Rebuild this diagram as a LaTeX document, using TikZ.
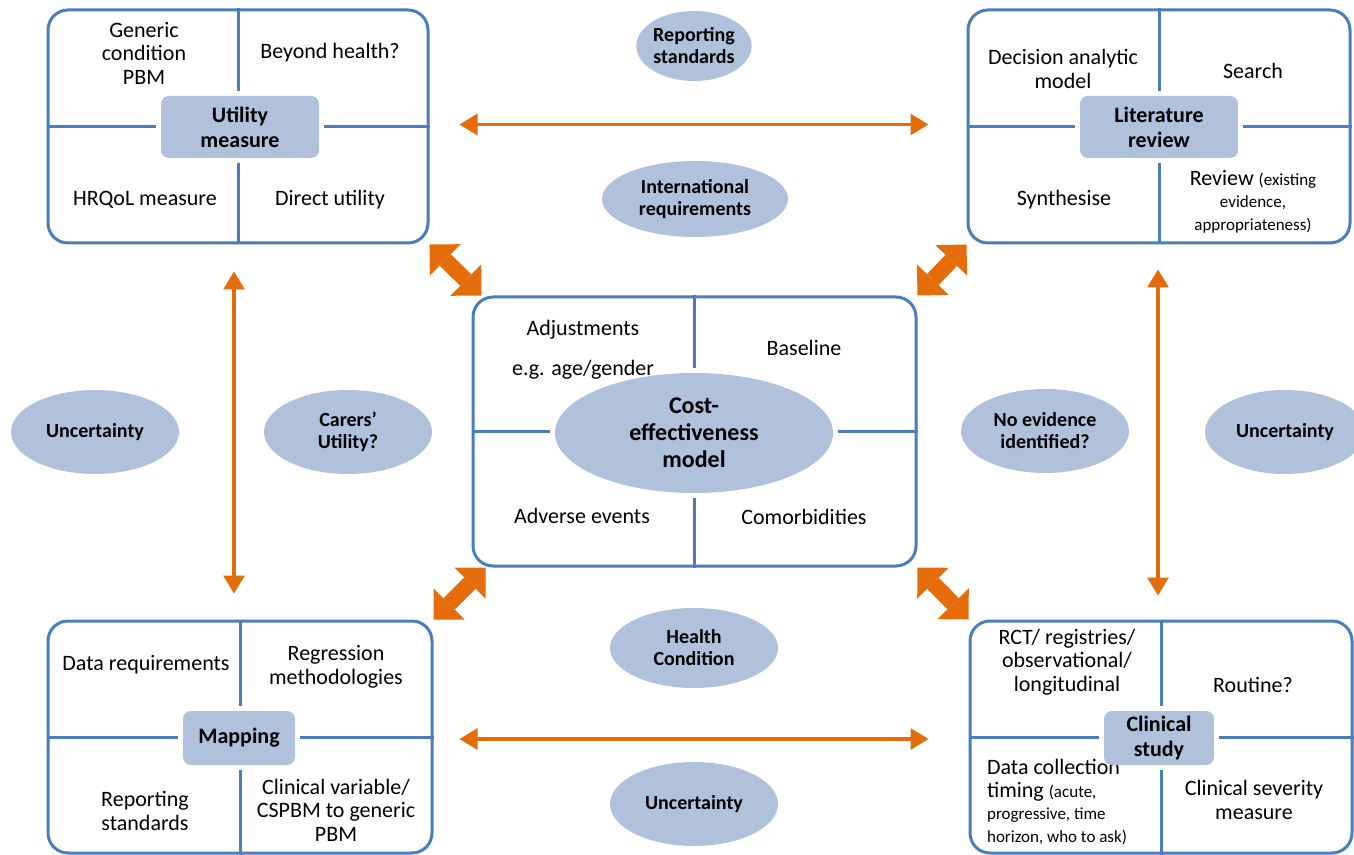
\documentclass[tikz,border=0pt]{standalone}
\usepackage{fontspec}
\setmainfont{Carlito}
\usetikzlibrary{arrows.meta,shapes.geometric}

\definecolor{boxblue}{HTML}{4A7EBB}
\definecolor{tagblue}{HTML}{B0C1DC}
\definecolor{arrorange}{HTML}{E46C0A}
\newcommand{\smalltxt}{\fontsize{8.5}{9.8}\selectfont}

\begin{document}
\begin{tikzpicture}[
    x=0.5pt,y=-0.5pt,
    every node/.style={align=center},
    quad/.style={draw=boxblue,line width=1.5pt,rounded corners=10pt,inner sep=0pt},
    tag/.style={fill=tagblue,rounded corners=4pt,inner sep=0pt,font=\fontsize{11}{12.5}\selectfont\bfseries},
    bubble/.style={ellipse,fill=tagblue,inner sep=0pt,minimum width=84pt,minimum height=42pt,font=\fontsize{10}{11}\selectfont\bfseries},
    cell/.style={font=\fontsize{11}{11.75}\selectfont},
    rule/.style={draw=boxblue,line width=1.5pt,shorten >=2.5pt},
    link/.style={draw=arrorange,line width=1.6pt,{Triangle[width=10.5pt,length=9pt]}-{Triangle[width=10.5pt,length=9pt]}},
    block/.style={draw=arrorange,line width=8pt,{Triangle[width=22pt,length=11pt,line width=0pt]}-{Triangle[width=22pt,length=11pt,line width=0pt]}}
]
\useasboundingbox (0,0) rectangle (1354,855);

\node[quad,minimum width=190pt,minimum height=116.5pt] (util) at (238,126.5) {};
\node[quad,minimum width=191pt,minimum height=116.5pt] (lit) at (1159,126.5) {};
\node[quad,minimum width=221.5pt,minimum height=134.5pt] (cem) at (694.5,431.5) {};
\node[quad,minimum width=192pt,minimum height=116pt] (map) at (240,737) {};
\node[quad,minimum width=191pt,minimum height=116pt] (clin) at (1161,737) {};

\node[cell] (gen) at (144,53) {Generic\\condition\\PBM};
\node[cell] (bey) at (330,53) {Beyond health?};
\node[cell] (hrq) at (145,200) {HRQoL measure};
\node[cell] (dir) at (330,200) {Direct utility};

\node[cell] (dec) at (1063,69) {Decision analytic\\model};
\node[cell] (sea) at (1253,71) {Search};
\node[cell] (syn) at (1064,200) {Synthesise};
\node[cell] (rev) at (1253,202) {Review \smalltxt(existing\\[-1pt]\smalltxt evidence,\\\smalltxt appropriateness)};

\node[cell] (adj) at (583,350) {Adjustments\\[1.6ex]e.g. age/gender};
\node[cell] (bas) at (804,348) {Baseline};
\node[cell] (adv) at (582,516) {Adverse events};
\node[cell] (com) at (804,517) {Comorbidities};

\node[cell] (dat) at (146,665) {Data requirements};
\node[cell] (reg) at (336,667) {Regression\\methodologies};
\node[cell] (rps) at (145,811) {Reporting\\standards};
\node[cell] (cli) at (336,810) {Clinical variable/\\CSPBM to generic\\PBM};

\node[cell] (rct) at (1067,662) {RCT/ registries/\\observational/\\longitudinal};
\node[cell] (rou) at (1253,685) {Routine?};
\node[cell,align=left,anchor=west] (dct) at (980,802) {Data collection\\timing \smalltxt(acute,\\[-1pt]\smalltxt progressive, time\\\smalltxt horizon, who to ask)};
\node[cell] (sev) at (1254,800) {Clinical severity\\measure};

\node[tag,minimum width=79pt,minimum height=31pt] (utag) at (240,127) {Utility\\measure};
\node[tag,minimum width=79pt,minimum height=31pt] (ltag) at (1159,127) {Literature\\review};
\node[ellipse,fill=tagblue,inner sep=0pt,minimum width=139pt,minimum height=60pt,font=\fontsize{12}{13.5}\selectfont\bfseries] (cm) at (694,433) {Cost-\\effectiveness\\model};
\node[tag,minimum width=56pt,minimum height=27pt] (mtag) at (239,738) {Mapping};
\node[tag,minimum width=55pt,minimum height=27pt] (ctag) at (1159,738) {Clinical\\study};

\draw[rule] (util.north) -- (util.north |- utag.north);
\draw[rule] (util.south) -- (util.south |- utag.south);
\draw[rule] (util.west) -- (util.west -| utag.west);
\draw[rule] (util.east) -- (util.east -| utag.east);
\draw[rule] (lit.north) -- (lit.north |- ltag.north);
\draw[rule] (lit.south) -- (lit.south |- ltag.south);
\draw[rule] (lit.west) -- (lit.west -| ltag.west);
\draw[rule] (lit.east) -- (lit.east -| ltag.east);
\draw[rule] (cem.north) -- (cem.north |- cm.north);
\draw[rule] (cem.south) -- (cem.south |- cm.south);
\draw[rule] (cem.west) -- (cem.west -| cm.west);
\draw[rule] (cem.east) -- (cem.east -| cm.east);
\draw[rule] (map.north) -- (map.north |- mtag.north);
\draw[rule] (map.south) -- (map.south |- mtag.south);
\draw[rule] (map.west) -- (map.west -| mtag.west);
\draw[rule] (map.east) -- (map.east -| mtag.east);
\draw[rule] (clin.north) -- (clin.north |- ctag.north);
\draw[rule] (clin.south) -- (clin.south |- ctag.south);
\draw[rule] (clin.west) -- (clin.west -| ctag.west);
\draw[rule] (clin.east) -- (clin.east -| ctag.east);

\node[bubble,minimum width=56pt,minimum height=35pt] (rep) at (694,46) {Reporting\\standards};
\node[bubble,minimum width=93pt,minimum height=38pt] (intl) at (695,199) {International\\requirements};
\node[bubble] (uncl) at (95,432) {Uncertainty};
\node[bubble] (carer) at (348,432) {Carers'\\Utility?};
\node[bubble] (noev) at (1045,431) {No evidence\\identified?};
\node[bubble,minimum width=80pt] (uncr) at (1285,432) {Uncertainty};
\node[bubble,minimum height=40pt] (hc) at (694,648) {Health\\Condition};
\node[bubble] (uncb) at (694,804) {Uncertainty};

\draw[link,shorten <=15pt,shorten >=19pt] ([yshift=1pt]util.east) -- ([yshift=1pt]lit.west);
\draw[link,shorten <=13pt,shorten >=20pt] ([yshift=-1pt]map.east) -- ([yshift=-1pt]clin.west);
\draw[link,shorten <=13.5pt,shorten >=13pt] ([xshift=-2pt]util.south) -- ([xshift=-2pt]util.south |- map.north);
\draw[link,shorten <=12.5pt,shorten >=12pt] ([xshift=-0.5pt]lit.south) -- ([xshift=-0.5pt]lit.south |- clin.north);

\draw[block] (util.south east) -- ([xshift=5pt]cem.north west);
\draw[block] (lit.south west) -- (cem.north east);
\draw[block] (map.north east) -- ([xshift=7pt]cem.south west);
\draw[block] (clin.north west) -- (cem.south east);
\end{tikzpicture}
\end{document}
